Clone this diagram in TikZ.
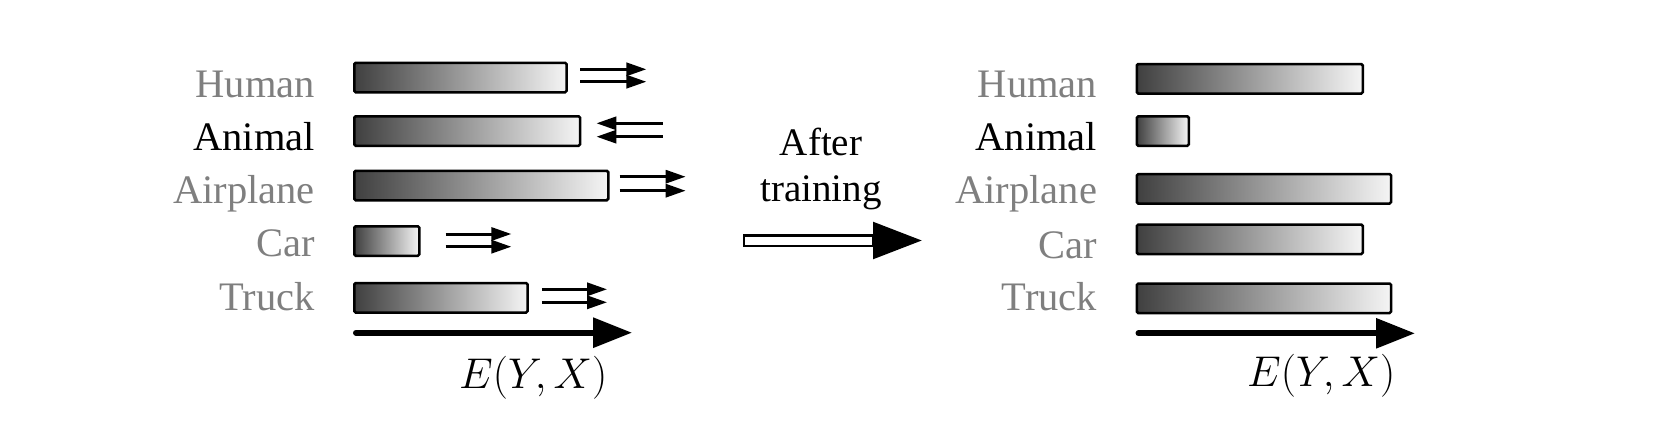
\RequirePackage{fix-cm}
\documentclass[tikz,border=0pt]{standalone}
\usepackage[no-math]{fontspec}
\setmainfont{Liberation Serif}
\usetikzlibrary{arrows.meta}
\definecolor{lblgray}{HTML}{7F7F7F}
\begin{document}
\begin{tikzpicture}[x=1pt,y=-1pt,
  bar/.style={draw=black, line width=2.5pt, rounded corners=1.5pt,
    left color=black!75, right color=black!4, anchor=north west,
    minimum height=29.5pt, inner sep=0pt, outer sep=0pt},
  lbl/.style={anchor=base east, font=\fontsize{40.5}{48}\selectfont,
    text=lblgray, inner sep=0pt},
  pair/.style={line width=3pt, -{Triangle[length=20pt,width=13pt]}},
  axisarrow/.style={line width=6pt, line cap=round,
    -{Triangle[length=39pt,width=29pt]}},
  mathlbl/.style={anchor=base west, inner sep=0pt,
    font=\fontsize{43}{51}\selectfont},
  ctext/.style={anchor=base, inner sep=0pt, font=\fontsize{39}{47}\selectfont},
]
\useasboundingbox (0,0) rectangle (1670,442);

% ---------- left panel ----------
\node[lbl] (lhuman) at (315,97.3) {Human};
\node[lbl, text=black] (lanimal) at (315,150) {Animal};
\node[lbl] (lairplane) at (315,203) {Airplane};
\node[lbl] (lcar) at (315,256.7) {Car};
\node[lbl] (ltruck) at (315,310) {Truck};

\node[bar, minimum width=212.3pt] (bhuman) at (354.25,62.75) {};
\node[bar, minimum width=225.9pt] (banimal) at (354.25,116.25) {};
\node[bar, minimum width=254pt] (bairplane) at (354.25,170.75) {};
\node[bar, minimum width=65.2pt] (bcar) at (354.25,226.25) {};
\node[bar, minimum width=173.3pt] (btruck) at (354.25,283) {};

% arrow pairs
\coordinate (h1s) at (580.4,69.3);  \coordinate (h1e) at (646.4,69.3);
\coordinate (h2s) at (580.4,81.7);  \coordinate (h2e) at (646.4,81.7);
\coordinate (a1s) at (662.5,123.3); \coordinate (a1e) at (596.4,123.3);
\coordinate (a2s) at (662.5,136.7); \coordinate (a2e) at (596.4,136.7);
\coordinate (p1s) at (619.6,176.7); \coordinate (p1e) at (685.7,176.7);
\coordinate (p2s) at (619.6,190.7); \coordinate (p2e) at (685.7,190.7);
\coordinate (c1s) at (445.7,234);   \coordinate (c1e) at (511.4,234);
\coordinate (c2s) at (445.7,246.7); \coordinate (c2e) at (511.4,246.7);
\coordinate (t1s) at (541.8,289.3); \coordinate (t1e) at (607.1,289.3);
\coordinate (t2s) at (541.8,302.3); \coordinate (t2e) at (607.1,302.3);
\draw[pair] (h1s) -- (h1e); \draw[pair] (h2s) -- (h2e);
\draw[pair] (a1s) -- (a1e); \draw[pair] (a2s) -- (a2e);
\draw[pair] (p1s) -- (p1e); \draw[pair] (p2s) -- (p2e);
\draw[pair] (c1s) -- (c1e); \draw[pair] (c2s) -- (c2e);
\draw[pair] (t1s) -- (t1e); \draw[pair] (t2s) -- (t2e);

% axis
\coordinate (lax0) at (356,332.7);
\coordinate (lax1) at (632.1,332.7);
\draw[axisarrow] (lax0) -- (lax1);
\node[mathlbl] (lE) at (459,388) {$E(Y,X)$};

% ---------- centre ----------
\node[ctext] (after) at (821,155) {After};
\node[ctext] (training) at (821,201.7) {training};
\draw[line width=2.5pt, fill=white] (744,235.25) rectangle (873,246.05);
\fill (873,221.7) -- (921.7,240.5) -- (873,259.3) -- cycle;

% ---------- right panel ----------
\node[lbl] (rhuman) at (1097.3,97.3) {Human};
\node[lbl, text=black] (ranimal) at (1097.3,150) {Animal};
\node[lbl] (rairplane) at (1097.3,203) {Airplane};
\node[lbl] (rcar) at (1097.3,258) {Car};
\node[lbl] (rtruck) at (1097.3,310) {Truck};

\node[bar, minimum width=226pt] (rbhuman) at (1136.75,64) {};
\node[bar, minimum width=52pt] (rbanimal) at (1136.75,116.25) {};
\node[bar, minimum width=254.3pt] (rbairplane) at (1136.75,174) {};
\node[bar, minimum width=226pt] (rbcar) at (1136.75,224.5) {};
\node[bar, minimum width=254.3pt] (rbtruck) at (1136.75,283.5) {};

\coordinate (rax0) at (1138.5,333.3);
\coordinate (rax1) at (1415,333.3);
\draw[axisarrow] (rax0) -- (rax1);
\node[mathlbl] (rE) at (1247,386) {$E(Y,X)$};
\end{tikzpicture}
\end{document}
